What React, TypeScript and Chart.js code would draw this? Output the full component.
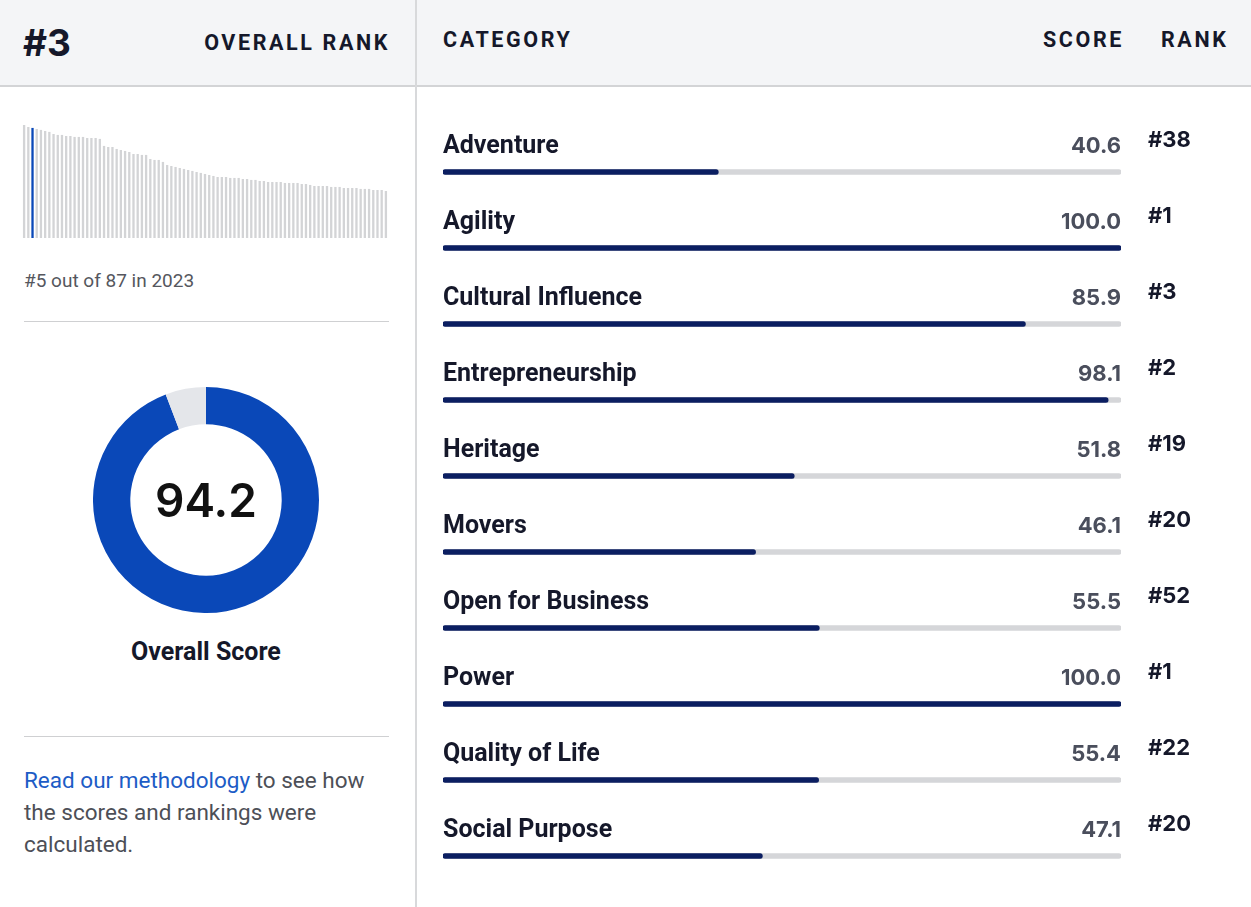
import React, { useEffect, useRef } from "react";
import { Chart, registerables } from "chart.js";

Chart.register(...registerables);

// ---- Data ----
const categories = [
  "Adventure",
  "Agility",
  "Cultural Influence",
  "Entrepreneurship",
  "Heritage",
  "Movers",
  "Open for Business",
  "Power",
  "Quality of Life",
  "Social Purpose",
];
const scores = [40.6, 100.0, 85.9, 98.1, 51.8, 46.1, 55.5, 100.0, 55.4, 47.1];
const ranks = [38, 1, 3, 2, 19, 20, 52, 1, 22, 20];

const overallScore = 94.2;
const overallRank = 3;
const highlightIndex = 2;

// 87 countries' overall scores (sorted)
const countryScores = [
  96.7, 95.0, 94.2, 93.3, 92.5, 91.6, 90.8, 89.0, 88.2, 88.2,
  87.3, 87.3, 86.5, 86.5, 86.5, 85.6, 85.6, 85.6, 84.8, 78.8,
  77.9, 77.9, 76.2, 75.3, 74.5, 73.6, 71.9, 71.9, 71.1, 71.1,
  67.6, 66.8, 66.8, 65.1, 62.5, 61.6, 60.8, 59.9, 59.1, 58.2,
  57.4, 56.5, 55.7, 54.8, 53.9, 53.1, 52.2, 52.2, 52.2, 51.4,
  51.4, 51.4, 50.5, 50.5, 49.7, 49.7, 48.8, 48.8, 47.9, 47.9,
  47.9, 47.9, 47.1, 47.1, 47.1, 47.1, 46.2, 46.2, 45.4, 44.5,
  44.5, 44.5, 44.5, 43.7, 43.7, 43.7, 42.8, 42.8, 42.8, 42.8,
  42.0, 42.0, 42.0, 41.1, 41.1, 41.1, 40.2,
];

const NAVY = "#0b1e61";
const TRACK = "#d5d6d9";
const BLUE = "#0a48b8";

function MiniBars() {
  const ref = useRef<HTMLCanvasElement>(null);
  useEffect(() => {
    const chart = new Chart(ref.current!, {
      type: "bar",
      data: {
        labels: countryScores.map((_, i) => String(i + 1)),
        datasets: [
          {
            data: countryScores,
            backgroundColor: countryScores.map((_, i) =>
              i === highlightIndex ? BLUE : "#d3d4d6"
            ),
            barPercentage: 0.55,
            categoryPercentage: 1,
            borderWidth: 0,
          },
        ],
      },
      options: {
        animation: false,
        responsive: false,
        maintainAspectRatio: false,
        layout: { padding: 0 },
        plugins: { legend: { display: false }, tooltip: { enabled: false } },
        scales: {
          x: { display: false },
          y: { display: false, min: 0, max: 96.7 },
        },
      },
    });
    return () => chart.destroy();
  }, []);
  return (
    <canvas
      ref={ref}
      width={366}
      height={113}
      style={{ position: "absolute", left: 22, top: 125, width: 366, height: 113 }}
    />
  );
}

function Donut() {
  const ref = useRef<HTMLCanvasElement>(null);
  useEffect(() => {
    const chart = new Chart(ref.current!, {
      type: "doughnut",
      data: {
        labels: ["Score", "Remaining"],
        datasets: [
          {
            data: [overallScore, 100 - overallScore],
            backgroundColor: [BLUE, "#e4e6ea"],
            borderWidth: 0,
          },
        ],
      },
      options: {
        animation: false,
        responsive: false,
        maintainAspectRatio: false,
        cutout: "67%",
        layout: { padding: 0 },
        plugins: { legend: { display: false }, tooltip: { enabled: false } },
      },
    });
    return () => chart.destroy();
  }, []);
  return (
    <canvas
      ref={ref}
      width={226}
      height={226}
      style={{ position: "absolute", left: 93, top: 387, width: 226, height: 226 }}
    />
  );
}

const rowTextPlugin = {
  id: "rowText",
  afterDatasetsDraw(chart: any) {
    const ctx = chart.ctx;
    const meta = chart.getDatasetMeta(0);
    const xs = chart.scales.x;
    meta.data.forEach((bar: any, i: number) => {
      const y = bar.y;
      ctx.save();
      ctx.textBaseline = "middle";
      ctx.fillStyle = "#15182a";
      ctx.font = "700 25px Roboto";
      ctx.textAlign = "left";
      ctx.fillText(categories[i], xs.left, y - 25);
      ctx.font = "700 22px Inter";
      ctx.fillStyle = "#4a4e5c";
      ctx.textAlign = "right";
      ctx.fillText(scores[i].toFixed(1), xs.right, y - 26);
      ctx.font = "700 22px Inter";
      ctx.fillStyle = "#15182a";
      ctx.textAlign = "left";
      ctx.fillText("#" + ranks[i], xs.right + 27, y - 32);
      ctx.restore();
    });
  },
};

function CategoryBars() {
  const ref = useRef<HTMLCanvasElement>(null);
  useEffect(() => {
    const chart = new Chart(ref.current!, {
      type: "bar",
      data: {
        labels: categories,
        datasets: [
          {
            data: scores,
            backgroundColor: NAVY,
            grouped: false,
            barThickness: 5,
            borderRadius: 3,
            borderSkipped: false,
            borderWidth: 0,
          } as any,
          {
            data: categories.map(() => 100),
            backgroundColor: TRACK,
            grouped: false,
            barThickness: 5,
            borderRadius: 3,
            borderSkipped: false,
            borderWidth: 0,
          } as any,
        ],
      },
      options: {
        indexAxis: "y",
        animation: false,
        responsive: false,
        maintainAspectRatio: false,
        layout: { padding: { left: 26, right: 130, top: 48, bottom: 13 } },
        plugins: { legend: { display: false }, tooltip: { enabled: false } },
        scales: {
          x: { display: false, min: 0, max: 100 },
          y: { display: false },
        },
      },
      plugins: [rowTextPlugin],
    });
    return () => chart.destroy();
  }, []);
  return (
    <canvas
      ref={ref}
      width={834}
      height={821}
      style={{ position: "absolute", left: 417, top: 86, width: 834, height: 821 }}
    />
  );
}

export default function App() {
  const head: React.CSSProperties = {
    position: "absolute",
    fontFamily: "Roboto, sans-serif",
    fontWeight: 700,
    fontSize: 21.5,
    letterSpacing: 2.6,
    color: "#15182a",
    lineHeight: "26px",
    whiteSpace: "nowrap",
  };
  return (
    <div
      style={{
        position: "fixed",
        left: 0,
        top: 0,
        width: 1251,
        height: 907,
        background: "#ffffff",
        overflow: "hidden",
        fontFamily: "Roboto, sans-serif",
      }}
    >
      {/* header band */}
      <div
        style={{
          position: "absolute",
          left: 0,
          top: 0,
          width: 1251,
          height: 85,
          background: "#f4f5f7",
          borderBottom: "2px solid #d3d4d6",
        }}
      />
      {/* vertical divider */}
      <div
        style={{
          position: "absolute",
          left: 415,
          top: 0,
          width: 2,
          height: 907,
          background: "#d8d9db",
        }}
      />
      <div
        style={{
          position: "absolute",
          left: 23,
          top: 21,
          fontFamily: "Inter, sans-serif",
          fontWeight: 700,
          fontSize: 37,
          lineHeight: "44px",
          color: "#15182a",
        }}
      >
        #{overallRank}
      </div>
      <div style={{ ...head, right: 1251 - 390, top: 30 }}>OVERALL RANK</div>
      <div style={{ ...head, left: 443, top: 27 }}>CATEGORY</div>
      <div style={{ ...head, right: 1251 - 1124, top: 27 }}>SCORE</div>
      <div style={{ ...head, left: 1161, top: 27 }}>RANK</div>

      <MiniBars />
      <div
        style={{
          position: "absolute",
          left: 24,
          top: 268,
          fontSize: 19,
          lineHeight: "26px",
          color: "#55575e",
        }}
      >
        #5 out of 87 in 2023
      </div>
      <div
        style={{
          position: "absolute",
          left: 24,
          top: 321,
          width: 365,
          height: 1,
          background: "#cfd0d2",
        }}
      />
      <Donut />
      <div
        style={{
          position: "absolute",
          left: 93,
          top: 472,
          width: 226,
          textAlign: "center",
          fontFamily: "Inter, sans-serif",
          fontWeight: 600,
          fontSize: 46,
          lineHeight: "56px",
          color: "#111111",
        }}
      >
        {overallScore.toFixed(1)}
      </div>
      <div
        style={{
          position: "absolute",
          left: 56,
          top: 636,
          width: 300,
          textAlign: "center",
          fontWeight: 700,
          fontSize: 25,
          lineHeight: "32px",
          color: "#15182a",
        }}
      >
        Overall Score
      </div>
      <div
        style={{
          position: "absolute",
          left: 24,
          top: 736,
          width: 365,
          height: 1,
          background: "#cfd0d2",
        }}
      />
      <div
        style={{
          position: "absolute",
          left: 24,
          top: 764,
          fontSize: 22.5,
          lineHeight: "32px",
          color: "#4d4f57",
          whiteSpace: "nowrap",
        }}
      >
        <span style={{ color: "#1d5cc6" }}>Read our methodology</span> to see how
        <br />
        the scores and rankings were
        <br />
        calculated.
      </div>

      <CategoryBars />
    </div>
  );
}
